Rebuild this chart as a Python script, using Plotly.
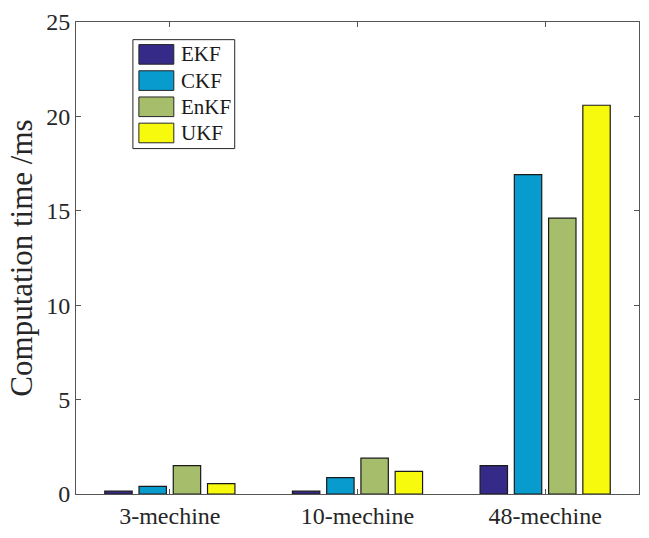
import plotly.graph_objects as go

categories = ["3-mechine", "10-mechine", "48-mechine"]
series_names = ["EKF", "CKF", "EnKF", "UKF"]
EKF = [0.15, 0.15, 1.5]
CKF = [0.4, 0.87, 16.92]
EnKF = [1.5, 1.9, 14.61]
UKF = [0.55, 1.2, 20.59]
series_values = [EKF, CKF, EnKF, UKF]
colors = ["#352a87", "#079bce", "#a6be6b", "#f8fa0d"]
y_ticks = [0, 5, 10, 15, 20, 25]

FONT = "Liberation Serif"
W, H = 649, 538
ML, MR, MT, MB = 76, 9, 15, 42
PW, PH = W - ML - MR, H - MT - MB

fig = go.Figure()
for name, vals, col in zip(series_names, series_values, colors):
    fig.add_trace(go.Bar(x=categories, y=vals, name=name,
                         marker=dict(color=col, line=dict(color="#1a1a1a", width=1.2)),
                         showlegend=False))

def px_x(p):
    return (p - ML) / PW
def px_y(p):
    return (H - MB - p) / PH

# custom legend (MATLAB style)
shapes = [dict(type="rect", xref="paper", yref="paper",
               x0=px_x(133), x1=px_x(235), y0=px_y(144), y1=px_y(33),
               line=dict(color="#262626", width=1), fillcolor="white", layer="above")]
annotations = []
row0, step = 38, 26.7
for i, (name, col) in enumerate(zip(series_names, colors)):
    top = row0 + i * step
    shapes.append(dict(type="rect", xref="paper", yref="paper",
                       x0=px_x(139), x1=px_x(174), y0=px_y(top + 20), y1=px_y(top),
                       line=dict(color="#262626", width=1), fillcolor=col, layer="above"))
    annotations.append(dict(xref="paper", yref="paper", x=px_x(179), y=px_y(top + 10),
                            text=name, showarrow=False, xanchor="left", yanchor="middle",
                            font=dict(family=FONT, size=21, color="#1a1a1a")))

axis_common = dict(showline=True, linecolor="#555555", linewidth=1, mirror="ticks",
                   ticks="inside", ticklen=5, tickcolor="#555555",
                   tickfont=dict(family=FONT, size=24, color="#262626"),
                   showgrid=False, zeroline=False)

fig.update_layout(
    width=W, height=H,
    margin=dict(l=ML, r=MR, t=MT, b=MB),
    plot_bgcolor="white", paper_bgcolor="white",
    barmode="group", bargap=0.27, bargroupgap=0.2,
    xaxis=dict(range=[-0.5, 2.5], **axis_common),
    yaxis=dict(range=[0, 25], tickvals=y_ticks,
               title=dict(text="Computation time /ms", font=dict(family=FONT, size=31, color="#262626"), standoff=4),
               **axis_common),
    shapes=shapes,
    annotations=annotations,
)

fig.write_html("out.html")
